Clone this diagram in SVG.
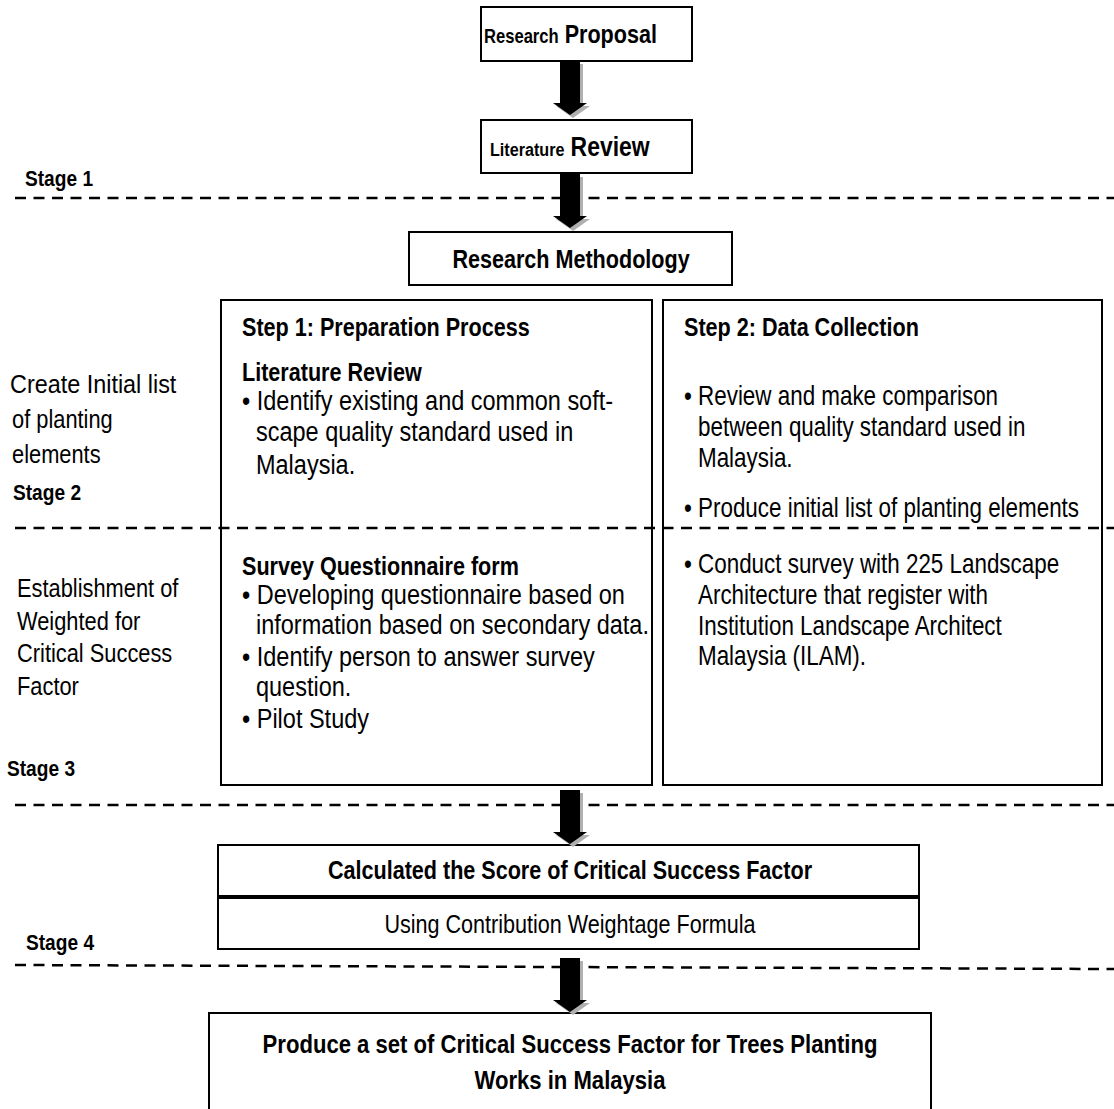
<svg xmlns="http://www.w3.org/2000/svg" width="1114" height="1109" viewBox="0 0 1114 1109">
<defs>
<style>
text{font-family:"Liberation Sans Narrow","Arial Narrow","Liberation Sans",sans-serif;fill:#000;font-size:26px}
.b{font-weight:bold}
.s{font-size:22.5px;font-weight:bold}
.r{font-size:27px}
.box{fill:#fff;stroke:#000;stroke-width:2}
.dash{stroke:#000;stroke-width:2.5;stroke-dasharray:11 7.5;fill:none}
.arw{fill:#000}
.shd{fill:#b0b0b0}
.c{text-anchor:middle}
</style>
<g id="arrowShape">
<polygon class="shd" points="-7,3 13,3 13,45 20,45 3,57 -14,45 -7,45"/>
<polygon class="arw" points="-10,0 10,0 10,42 17,42 0,54 -17,42 -10,42"/>
</g>
</defs>

<g id="stage-labels">
<text class="s" transform="translate(25 186) scale(.85 1)">Stage 1</text>
<text class="s" transform="translate(13 500) scale(.85 1)">Stage 2</text>
<text class="s" transform="translate(7 776) scale(.85 1)">Stage 3</text>
<text class="s" transform="translate(26 950) scale(.85 1)">Stage 4</text>
</g>

<g id="side-label-1">
<text transform="translate(10 393) scale(.9 1)">Create Initial list</text>
<text transform="translate(12 428) scale(.84 1)">of planting</text>
<text transform="translate(12 463) scale(.84 1)">elements</text>
</g>
<g id="side-label-2">
<text transform="translate(17 597) scale(.84 1)">Establishment of</text>
<text transform="translate(17 630) scale(.84 1)">Weighted for</text>
<text transform="translate(17 662) scale(.84 1)">Critical Success</text>
<text transform="translate(17 695) scale(.84 1)">Factor</text>
</g>

<g id="node-proposal">
<rect class="box" x="481" y="7" width="211" height="54"/>
<text class="b" transform="translate(484 43) scale(.83 1)"><tspan font-size="20">Research</tspan> <tspan font-size="26">Proposal</tspan></text>
</g>

<g id="node-literature">
<rect class="box" x="481" y="120" width="211" height="53"/>
<text class="b" transform="translate(490 156) scale(.85 1)"><tspan font-size="19">Literature</tspan> <tspan font-size="27">Review</tspan></text>
</g>

<g id="node-methodology">
<rect class="box" x="409" y="232" width="323" height="53"/>
<text class="b c" transform="translate(571 268) scale(.83 1)">Research Methodology</text>
</g>

<g id="node-step1">
<rect class="box" x="221" y="300" width="431" height="485"/>
<text class="b" transform="translate(242 336) scale(.83 1)">Step 1: Preparation Process</text>
<text class="b" transform="translate(242 381) scale(.83 1)">Literature Review</text>
<text class="r" transform="translate(242 410) scale(.87 1)">• Identify existing and common soft-</text>
<text class="r" transform="translate(256 441) scale(.87 1)">scape quality standard used in</text>
<text class="r" transform="translate(256 474) scale(.87 1)">Malaysia.</text>
<text class="b" transform="translate(242 575) scale(.83 1)">Survey Questionnaire form</text>
<text class="r" transform="translate(242 604) scale(.87 1)">• Developing questionnaire based on</text>
<text class="r" transform="translate(256 634) scale(.87 1)">information based on secondary data.</text>
<text class="r" transform="translate(242 666) scale(.87 1)">• Identify person to answer survey</text>
<text class="r" transform="translate(256 696) scale(.87 1)">question.</text>
<text class="r" transform="translate(242 728) scale(.87 1)">• Pilot Study</text>
</g>

<g id="node-step2">
<rect class="box" x="663" y="300" width="439" height="485"/>
<text class="b" transform="translate(684 336) scale(.83 1)">Step 2: Data Collection</text>
<text class="r" transform="translate(684 405) scale(.83 1)">• Review and make comparison</text>
<text class="r" transform="translate(698 436) scale(.83 1)">between quality standard used in</text>
<text class="r" transform="translate(698 467) scale(.83 1)">Malaysia.</text>
<text class="r" transform="translate(684 517) scale(.83 1)">• Produce initial list of planting  elements</text>
<text class="r" transform="translate(684 573) scale(.83 1)">• Conduct survey with 225 Landscape</text>
<text class="r" transform="translate(698 604) scale(.83 1)">Architecture that register with</text>
<text class="r" transform="translate(698 635) scale(.83 1)">Institution Landscape Architect</text>
<text class="r" transform="translate(698 665) scale(.83 1)">Malaysia (ILAM).</text>
</g>

<g id="node-score">
<rect class="box" x="218" y="845" width="701" height="104"/>
<line x1="218" y1="897" x2="919" y2="897" stroke="#000" stroke-width="4"/>
<text class="b c" transform="translate(570 879) scale(.83 1)">Calculated the Score of Critical Success Factor</text>
<text class="c" transform="translate(570 933) scale(.83 1)">Using Contribution Weightage Formula</text>
</g>

<g id="node-result">
<path class="box" d="M209,1110 V1013 H931 V1110"/>
<text class="b c" transform="translate(570 1053) scale(.85 1)">Produce a set of Critical Success Factor for Trees Planting</text>
<text class="b c" transform="translate(570 1089) scale(.85 1)">Works in Malaysia</text>
</g>

<g id="stage-lines">
<line class="dash" x1="15" y1="198" x2="1114" y2="198"/>
<line class="dash" x1="15" y1="528" x2="1114" y2="528"/>
<line class="dash" x1="15" y1="805" x2="1114" y2="805"/>
<line class="dash" x1="15" y1="965" x2="1114" y2="969"/>
</g>

<g id="connectors">
<use href="#arrowShape" x="570" y="61"/>
<use href="#arrowShape" x="570" y="174"/>
<use href="#arrowShape" x="570" y="790"/>
<use href="#arrowShape" x="570" y="958"/>
</g>
</svg>
